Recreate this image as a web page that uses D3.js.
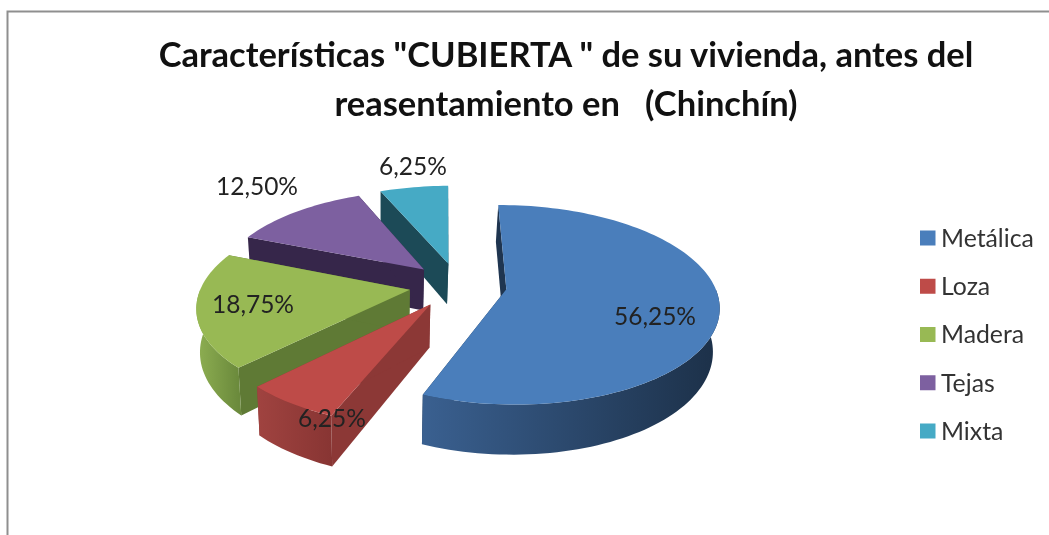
<!DOCTYPE html>
<html><head><meta charset="utf-8">
<script src="https://cdn.jsdelivr.net/npm/d3@7"></script>
<style>
html,body{margin:0;padding:0;background:#fff;overflow:hidden}
svg{display:block;filter:blur(0.5px)}
text{font-family:Lato,"Noto Sans",sans-serif}
</style></head><body>
<svg id="c" width="1049" height="535"></svg>
<script>
const categories = ["Metálica","Loza","Madera","Tejas","Mixta"];
const values = [56.25,6.25,18.75,12.5,6.25];
const topColors = ["#4a7ebb","#be4b48","#98b954","#7d60a0","#46aac5"];
const radialColors = ["#1f3550","#8c3836","#5f7a35","#36264a","#1c4a57"];
const wallStops = [["#3a6090","#1c3048"],["#a04340","#883533"],["#8eaf52","#6b8a3c"],["#5a4478","#36264a"],["#2a7088","#1c4a57"]];
const labelPos = [[655,316],[332,418],[253,304],[257,186],[413,166]];
const titleLines = ['Características "CUBIERTA " de su vivienda, antes del','reasentamiento en   (Chinchín)'];

const svg = d3.select("#c");
const cx = 458, cy = 285, R = 208, S = 96, persp = 0.155, D = 42, explode = 0.235, baseVanishX = 380, baseShrink = 0.98;
const rot = -0.5 * Math.PI/180;

function project(u,v,z){
  const w = 1 + persp*v;
  let x = cx + R*u/w, y = cy - S*v/w + D*z/w;
  if(z>0) x = baseVanishX + (x-baseVanishX)*baseShrink;
  return [x, y];
}
const pie = d3.pie().sort(null).value(d=>d).startAngle(rot).endAngle(2*Math.PI+rot);
const arcs = pie(values);
const line = d3.line();
const defs = svg.append("defs");

// frame
svg.append("path").attr("d","M7.5,535V11.5H1049").attr("fill","none").attr("stroke","#8f8f8f").attr("stroke-width",2);

// title
svg.append("g").selectAll("text").data(titleLines).join("text")
  .attr("x",566).attr("y",(d,i)=>67+i*48.5)
  .attr("text-anchor","middle").attr("font-size",34.5).attr("font-weight",700).attr("fill","#111")
  .style("white-space","pre").attr("xml:space","preserve")
  .text(d=>d);

// slices: painter's order back to front
const order = [4,3,2,1,0];
const g = svg.append("g");
order.forEach(i=>{
  const a = arcs[i], mid=(a.startAngle+a.endAngle)/2;
  const ou = explode*Math.sin(mid), ov = explode*Math.cos(mid);
  const n = Math.max(8,Math.ceil((a.endAngle-a.startAngle)/0.03));
  const angs = d3.range(n+1).map(k=>a.startAngle+(a.endAngle-a.startAngle)*k/n);
  const rim = (ts,z)=>ts.map(t=>project(ou+Math.sin(t),ov+Math.cos(t),z));
  const apexT = project(ou,ov,0), apexB = project(ou,ov,1);
  const rimT = rim(angs,0), rimB = rim(angs,1);
  const sl = g.append("g").attr("class","slice");
  // radial walls
  [[rimT[0],rimB[0]],[rimT[n],rimB[n]]].forEach(([p,q])=>{
    sl.append("path").attr("d",line([apexT,p,q,apexB])+"Z").attr("fill",radialColors[i]);
  });
  // outer wall: only the part of the rim that faces the viewer
  const facing = angs.filter(t=>Math.cos(t)<0.02);
  if(facing.length>1){
    const ft = rim(facing,0), fb = rim(facing,1);
    const xs = d3.extent(ft,d=>d[0]);
    const gid="wall"+i;
    const gr = defs.append("linearGradient").attr("id",gid).attr("gradientUnits","userSpaceOnUse")
      .attr("x1",xs[0]).attr("x2",xs[1]).attr("y1",0).attr("y2",0);
    gr.append("stop").attr("offset",0).attr("stop-color",wallStops[i][0]);
    gr.append("stop").attr("offset",1).attr("stop-color",wallStops[i][1]);
    sl.append("path").attr("d",line(ft.concat(fb.slice().reverse()))+"Z").attr("fill",`url(#${gid})`);
  }
  // top face
  sl.append("path").attr("d",line([apexT].concat(rimT))+"Z").attr("fill",topColors[i]);
});

// data labels
const fmt = v=>v.toFixed(2).replace(".",",")+"%";
svg.append("g").selectAll("text").data(values).join("text")
  .attr("x",(d,i)=>labelPos[i][0]).attr("y",(d,i)=>labelPos[i][1])
  .attr("dy","0.35em").attr("text-anchor","middle").attr("font-size",24.5).attr("fill","#222")
  .text(fmt);

// legend
const rowY = d3.scalePoint().domain(categories).range([238,431]);
const lg = svg.append("g").selectAll("g").data(categories).join("g").attr("transform",d=>`translate(920,${rowY(d)})`);
lg.append("rect").attr("x",0).attr("y",-7.5).attr("width",15.5).attr("height",15).attr("fill",(d,i)=>topColors[i]);
lg.append("text").attr("x",21).attr("dy","0.36em").attr("font-size",24.8).attr("fill","#333").text(d=>d);
</script>
</body></html>
